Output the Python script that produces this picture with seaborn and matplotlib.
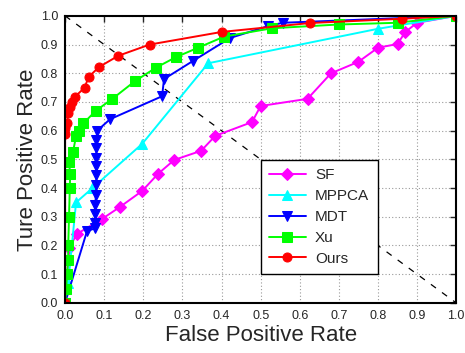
import numpy as np
import pandas as pd
import matplotlib
matplotlib.use("Agg")
import matplotlib.pyplot as plt
import seaborn as sns

# ROC curve values
sf_fpr = [0.0, 0.01, 0.03, 0.095, 0.14, 0.197, 0.238, 0.279, 0.348, 0.384, 0.478, 0.50,
          0.62, 0.68, 0.75, 0.80, 0.85, 0.87, 0.90, 1.0]
sf_tpr = [0.0, 0.19, 0.24, 0.293, 0.334, 0.39, 0.45, 0.498, 0.53, 0.582, 0.63, 0.686,
          0.711, 0.80, 0.84, 0.889, 0.902, 0.944, 0.976, 1.0]

mppca_fpr = [0.0, 0.008, 0.028, 0.07, 0.197, 0.366, 0.80, 1.0]
mppca_tpr = [0.0, 0.07, 0.35, 0.40, 0.554, 0.835, 0.955, 1.0]

mdt_fpr = [0.0, 0.056, 0.077, 0.077, 0.077, 0.077, 0.079, 0.08, 0.08, 0.08, 0.08, 0.08,
           0.08, 0.082, 0.115, 0.248, 0.253, 0.327, 0.422, 0.52, 0.557, 1.0]
mdt_tpr = [0.0, 0.25, 0.26, 0.28, 0.31, 0.34, 0.376, 0.41, 0.446, 0.477, 0.505, 0.54,
           0.568, 0.60, 0.64, 0.72, 0.78, 0.843, 0.923, 0.965, 0.976, 1.0]

xu_fpr = [0.0, 0.003, 0.005, 0.008, 0.008, 0.01, 0.012, 0.013, 0.01, 0.02, 0.028, 0.036,
          0.047, 0.079, 0.12, 0.179, 0.233, 0.283, 0.34, 0.407, 0.53, 0.70, 0.85, 1.0]
xu_tpr = [0.0, 0.05, 0.10, 0.15, 0.20, 0.30, 0.40, 0.45, 0.49, 0.525, 0.58, 0.60,
          0.626, 0.67, 0.71, 0.773, 0.82, 0.856, 0.889, 0.928, 0.957, 0.97, 0.976, 1.0]

ours_fpr = [0.0, 0.0, 0.0, 0.005, 0.008, 0.013, 0.018, 0.025, 0.05, 0.06, 0.087, 0.136,
            0.216, 0.40, 0.625, 0.862, 1.0]
ours_tpr = [0.0, 0.59, 0.61, 0.627, 0.66, 0.683, 0.70, 0.718, 0.75, 0.787, 0.822, 0.861,
            0.90, 0.944, 0.975, 0.99, 1.0]

methods = ["SF", "MPPCA", "MDT", "Xu", "Ours"]
colors = ["#ff00ff", "#00ffff", "#0000ff", "#00ff00", "#ff0000"]
markers = ["D", "^", "v", "s", "o"]
curves = [(sf_fpr, sf_tpr), (mppca_fpr, mppca_tpr), (mdt_fpr, mdt_tpr),
          (xu_fpr, xu_tpr), (ours_fpr, ours_tpr)]

sns.set_style("white")
plt.rcParams['font.family'] = ['Liberation Sans', 'DejaVu Sans']

fig, ax = plt.subplots(figsize=(4.65, 3.53), dpi=100)
fig.subplots_adjust(left=0.14, right=0.981, bottom=0.142, top=0.955)

# chance diagonal
ax.plot([0, 1], [1, 0], color="black", linestyle=(0, (5, 6)), linewidth=0.9, zorder=1)

for name, (fpr, tpr), c, m in zip(methods, curves, colors, markers):
    df = pd.DataFrame({"fpr": fpr, "tpr": tpr})
    sns.lineplot(data=df, x="fpr", y="tpr", ax=ax, sort=False, estimator=None,
                 color=c, marker=m, markersize=6.5, markeredgecolor=c,
                 linewidth=1.4, label=name, zorder=3)

ax.set_xlim(0, 1)
ax.set_ylim(0, 1)
ticks = np.round(np.arange(0, 1.01, 0.1), 1)
ax.set_xticks(ticks)
ax.set_yticks(ticks)
ax.set_xticklabels([f"{t:.1f}" for t in ticks], fontsize=9)
ax.set_yticklabels([f"{t:.1f}" for t in ticks], fontsize=9)
ax.tick_params(direction="in", length=4, width=1, top=True, right=True, pad=5)
ax.grid(True, color="#999999", linestyle=(0, (1, 2)), linewidth=0.8)
for s in ax.spines.values():
    s.set_color("black")
    s.set_linewidth(1.5)
    s.set_zorder(5)

ax.set_xlabel("False Positive Rate", fontsize=16, labelpad=2)
ax.set_ylabel("Ture Positive Rate", fontsize=16, labelpad=2)

leg = ax.legend(loc="lower left", bbox_to_anchor=(0.5, 0.1, 0.3, 0.4), mode="expand",
                borderaxespad=0, fontsize=11, frameon=True, fancybox=False,
                edgecolor="black", borderpad=0.55, labelspacing=0.45,
                handlelength=2.4, handletextpad=0.6)
leg.get_frame().set_linewidth(1.0)
leg.get_frame().set_alpha(1)

plt.savefig("out.png", dpi=100)
